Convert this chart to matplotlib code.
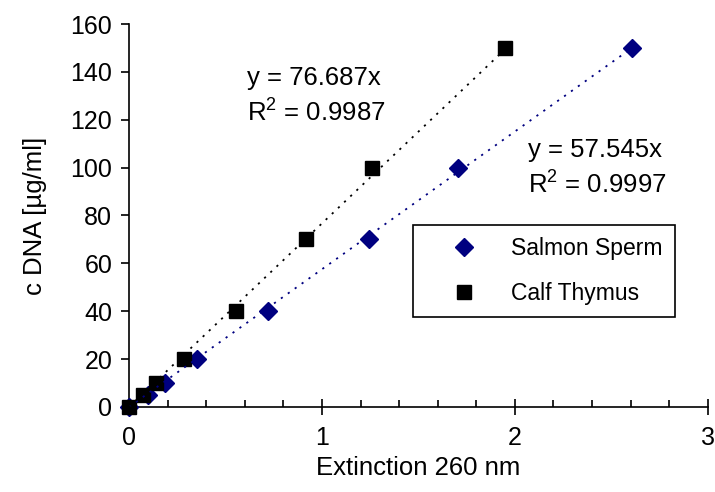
import matplotlib
matplotlib.use('Agg')
import matplotlib.pyplot as plt
import numpy as np
from matplotlib.ticker import MultipleLocator

plt.rcParams['font.family'] = ['Liberation Sans', 'DejaVu Sans']

# concentrations (ug/ml)
conc = [0, 5, 10, 20, 40, 70, 100, 150]

# extinction at 260 nm
ext_salmon = [0, 0.100, 0.187, 0.354, 0.722, 1.244, 1.706, 2.605]
ext_calf = [0, 0.071, 0.138, 0.287, 0.554, 0.917, 1.258, 1.948]

slope_salmon = 57.545
slope_calf = 76.687
r2_salmon = 0.9997
r2_calf = 0.9987

navy = '#000080'

fig = plt.figure(figsize=(7.15, 4.92), dpi=100)
ax = fig.add_axes([0.1804, 0.1728, 0.8096, 0.7784])

ax.plot(ext_salmon, conc, linestyle='none', marker='D', markersize=9,
        color=navy, clip_on=False, zorder=3, label='Salmon Sperm')
ax.plot(ext_calf, conc, linestyle='none', marker='s', markersize=9.5,
        color='black', clip_on=False, zorder=3, label='Calf Thymus')

# linear trendlines through the origin
xs = np.array([0, max(ext_salmon)])
ax.plot(xs, slope_salmon * xs, color=navy, lw=1.3, linestyle=(0, (1.2, 3.5)), zorder=4)
xc = np.array([0, max(ext_calf)])
ax.plot(xc, slope_calf * xc, color='black', lw=1.3, linestyle=(0, (1.2, 3.5)), zorder=4)

ax.text(0.611, 137.4, 'y = %.3fx' % slope_calf, fontsize=18.5, va='center')
ax.text(0.611, 122.8, '$\\mathregular{R^2}$ = %.4f' % r2_calf, fontsize=18.5, va='center')
ax.text(2.067, 107.4, 'y = %.3fx' % slope_salmon, fontsize=18.5, va='center')
ax.text(2.067, 92.7, '$\\mathregular{R^2}$ = %.4f' % r2_salmon, fontsize=18.5, va='center')

ax.set_xlim(0, 3)
ax.set_ylim(0, 160)
ax.xaxis.set_major_locator(MultipleLocator(1))
ax.xaxis.set_minor_locator(MultipleLocator(0.2))
ax.yaxis.set_major_locator(MultipleLocator(20))

for side in ['top', 'right']:
    ax.spines[side].set_visible(False)
for side in ['left', 'bottom']:
    ax.spines[side].set_linewidth(1.2)

ax.tick_params(axis='x', which='major', direction='inout', length=12, width=1.2,
               labelsize=18, pad=8)
ax.tick_params(axis='x', which='minor', direction='in', length=5, width=1.2)
ax.tick_params(axis='y', which='major', direction='out', length=6, width=1.2,
               labelsize=18, pad=6)

ax.set_xlabel('Extinction 260 nm', fontsize=18.5, labelpad=4)
ax.set_ylabel('c DNA [µg/ml]', fontsize=18.5, labelpad=17)

leg = ax.legend(loc='upper left', bbox_to_anchor=(0.491, 0.232, 0.453, 0.243),
                mode='expand', borderaxespad=0, fancybox=False, framealpha=1,
                edgecolor='black', fontsize=16.5, labelspacing=1.0,
                handlelength=3.4, handletextpad=0.35, borderpad=0.5, numpoints=1)
leg.get_frame().set_linewidth(1.2)

fig.savefig('out.png', dpi=100)
